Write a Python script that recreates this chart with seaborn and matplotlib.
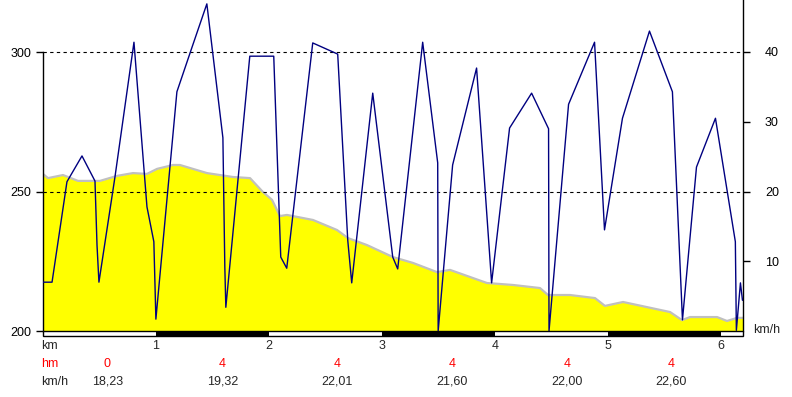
import matplotlib
matplotlib.use("Agg")
import matplotlib.pyplot as plt
import matplotlib.transforms as mtransforms
from matplotlib.patches import Rectangle
import pandas as pd
import seaborn as sns

# elevation profile: distance (km) and height (m)
elev_km = [0.000, 0.044, 0.177, 0.310, 0.504, 0.655, 0.796, 0.920, 1.009, 1.150,
           1.212, 1.451, 1.681, 1.832, 1.947, 2.027, 2.097, 2.159, 2.389, 2.602,
           2.699, 2.867, 3.097, 3.274, 3.487, 3.602, 3.929, 4.159, 4.398, 4.469,
           4.664, 4.885, 4.973, 5.133, 5.549, 5.655, 5.726, 5.965, 6.053, 6.142, 6.195]
elev_m = [256.3, 254.8, 255.9, 253.8, 253.8, 255.6, 256.6, 256.3, 258.1, 259.5,
          259.5, 256.6, 255.2, 254.8, 249.8, 247.0, 241.2, 241.6, 239.8, 236.2,
          233.3, 230.8, 226.5, 224.4, 221.1, 221.9, 217.2, 216.5, 215.4, 212.9,
          212.9, 211.8, 209.0, 210.4, 206.8, 203.9, 205.0, 205.0, 203.6, 204.7, 204.7]

# speed: distance (km) and km/h
speed_km = [0.000, 0.080, 0.212, 0.345, 0.460, 0.478, 0.495, 0.637, 0.805, 0.920,
            0.981, 0.999, 1.185, 1.317, 1.450, 1.592, 1.609, 1.618, 1.830, 2.042,
            2.104, 2.157, 2.387, 2.608, 2.697, 2.732, 2.918, 3.095, 3.139, 3.360,
            3.493, 3.497, 3.625, 3.837, 3.970, 4.129, 4.324, 4.474, 4.478, 4.651,
            4.881, 4.969, 5.128, 5.367, 5.570, 5.659, 5.783, 5.951, 6.127, 6.136,
            6.172, 6.190]
speed_kmh = [7.0, 7.0, 21.4, 25.1, 21.5, 12.3, 7.0, 22.1, 41.4, 17.8,
             12.8, 1.7, 34.3, 40.6, 46.9, 27.7, 9.2, 3.4, 39.4, 39.4,
             10.6, 9.0, 41.3, 39.7, 13.0, 6.9, 34.1, 10.6, 8.9, 41.4,
             24.1, 0.0, 23.8, 37.7, 6.9, 29.1, 34.1, 29.0, 0.0, 32.5,
             41.4, 14.5, 30.5, 43.0, 34.3, 1.6, 23.5, 30.5, 12.8, 0.1,
             6.9, 4.4]

# per-km summary rows
km_ticks = [1, 2, 3, 4, 5, 6]
seg_hm = ["0", "4", "4", "4", "4", "4"]
seg_speed = ["18,23", "19,32", "22,01", "21,60", "22,00", "22,60"]
seg_pos = [0.57, 1.59, 2.60, 3.62, 4.64, 5.56]

elev = pd.DataFrame({"km": elev_km, "m": elev_m})
speed = pd.DataFrame({"km": speed_km, "kmh": speed_kmh})

sns.set_style("white")
plt.rcParams["font.family"] = ["Liberation Sans", "DejaVu Sans"]
plt.rcParams["font.size"] = 9

W, H = 792, 397
fig = plt.figure(figsize=(W / 100, H / 100), dpi=100)
ax = fig.add_axes([43 / W, 66 / H, 700 / W, 331 / H])
xmax = 700 / 113.0

# elevation fill + grey outline
ax.fill_between(elev["km"], 200, elev["m"], color="#ffff00", lw=0, zorder=1)
sns.lineplot(data=elev, x="km", y="m", ax=ax, color="#c0c0c0", lw=1.6,
             estimator=None, sort=False, zorder=2)
ax.set_xlim(0, xmax)
ax.set_ylim(200, 200 + 331 / 2.79)
ax.set_yticks([200, 250, 300])
ax.tick_params(axis="y", left=True, length=5, width=1, pad=3.6, colors="black",
               labelsize=9)
ax.tick_params(axis="x", bottom=False, labelbottom=False)
ax.set_xlabel("")
ax.set_ylabel("")
for s in ["top", "right", "bottom"]:
    ax.spines[s].set_visible(False)
ax.spines["left"].set_bounds(200, 300)
ax.spines["left"].set_color("black")
ax.spines["left"].set_linewidth(1)

# speed on right axis
ax2 = ax.twinx()
ax2.set_ylim(0, 331 / 6.975)
for g in [20, 40]:
    ax2.axhline(g, color="black", lw=0.8, ls=(0, (3, 3)), zorder=3)
sns.lineplot(data=speed, x="km", y="kmh", ax=ax2, color="#000080", lw=1.0,
             estimator=None, sort=False, zorder=4)
ax2.set_xlim(0, xmax)
ax2.set_yticks([10, 20, 30, 40])
ax2.tick_params(axis="y", right=True, length=5, width=1, pad=10.8,
                colors="black", labelsize=9)
ax2.set_xlabel("")
ax2.set_ylabel("")
for s in ["top", "left", "bottom"]:
    ax2.spines[s].set_visible(False)
ax2.spines["right"].set_color("black")
ax2.spines["right"].set_linewidth(1)

# km scale band under the plot
band_h = 5 / 331
tr = ax2.get_xaxis_transform()
for i in range(7):
    w = min(1, xmax - i)
    ax2.add_patch(Rectangle((i, -band_h), w, band_h, transform=tr,
                            facecolor="white" if i % 2 == 0 else "black",
                            edgecolor="none", clip_on=False, zorder=5))
ax2.add_patch(Rectangle((0, -band_h), xmax, band_h, transform=tr,
                        facecolor="none", edgecolor="black", lw=1,
                        clip_on=False, zorder=6))

# summary rows
bt = mtransforms.blended_transform_factory(ax.transData, fig.transFigure)
fig.text(41 / W, 1 - 346 / H, "km", ha="left", va="center")
fig.text(41 / W, 1 - 364 / H, "hm", ha="left", va="center", color="red")
fig.text(41 / W, 1 - 382 / H, "km/h", ha="left", va="center")
for k in km_ticks:
    ax.text(k, 1 - 346 / H, str(k), transform=bt, ha="center", va="center")
for p, h, v in zip(seg_pos, seg_hm, seg_speed):
    ax.text(p, 1 - 364 / H, h, transform=bt, ha="center", va="center", color="red")
    ax.text(p, 1 - 382 / H, v, transform=bt, ha="center", va="center")
fig.text(753 / W, 1 - 330 / H, "km/h", ha="left", va="center")

fig.savefig("out.png", dpi=100, facecolor="white")
